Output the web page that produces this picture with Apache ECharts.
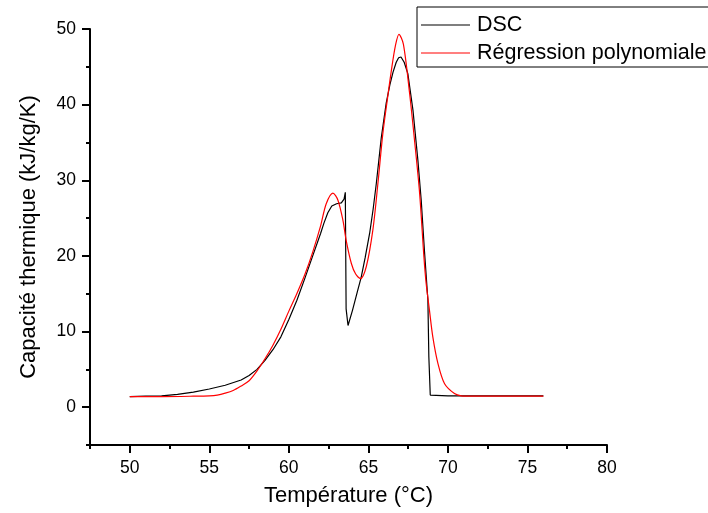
<!DOCTYPE html>
<html>
<head>
<meta charset="utf-8">
<script src="https://cdn.jsdelivr.net/npm/echarts@6/dist/echarts.min.js"></script>
<style>
html,body{margin:0;padding:0;background:#fff;}
#c{width:708px;height:513px;}
</style>
</head>
<body>
<div id="c"></div>
<script>
// ---- data ----
var seriesNames = ['DSC', 'Régression polynomiale'];
var tempDSC = [50, 51, 52, 53, 54, 55, 56, 57, 57.5, 58, 58.5, 59, 59.5, 60, 60.5, 61, 61.5, 62, 62.2, 62.45, 62.7, 63.0, 63.3, 63.47, 63.55, 63.6, 63.72, 64.0, 64.3, 64.55, 64.8, 65.08, 65.3, 65.5, 65.81, 66.12, 66.35, 66.55, 66.75, 66.9, 67.05, 67.25, 67.48, 67.8, 68.11, 68.32, 68.53, 68.74, 68.8, 68.89, 69.0, 70, 72, 74, 76];
var cpDSC   = [1.4, 1.45, 1.5, 1.7, 2.0, 2.4, 2.9, 3.6, 4.2, 5.0, 6.2, 7.6, 9.3, 11.6, 14.1, 17.0, 20.0, 23.0, 24.3, 25.7, 26.6, 26.9, 27.0, 27.5, 28.4, 13.0, 10.8, 12.8, 15.2, 17.2, 19.8, 23.0, 26.2, 29.6, 35.6, 40.2, 42.6, 44.3, 45.6, 46.2, 46.3, 45.6, 44.1, 39.3, 32.7, 27.4, 20.5, 14.2, 6.7, 1.6, 1.5, 1.5, 1.5, 1.5, 1.5];
var tempFit = [50, 52, 54, 55, 55.5, 56, 56.5, 57, 57.5, 58, 58.5, 59, 59.5, 60, 60.5, 61, 61.5, 62, 62.35, 62.77, 63.08, 63.4, 63.6, 63.93, 64.2, 64.5, 64.87, 65.28, 65.6, 65.91, 66.2, 66.45, 66.7, 66.92, 67.2, 67.59, 67.9, 68.22, 68.49, 68.63, 68.84, 69.05, 69.37, 69.79, 70.41, 70.83, 71.5, 76];
var cpFit   = [1.4, 1.4, 1.45, 1.5, 1.6, 1.85, 2.2, 2.8, 3.5, 4.8, 6.4, 8.2, 10.3, 12.7, 15.0, 17.5, 20.5, 24.0, 26.9, 28.3, 27.4, 24.7, 22.1, 19.0, 17.6, 17.0, 18.6, 23.4, 29.6, 36.2, 40.8, 44.6, 47.8, 49.3, 48.0, 41.5, 35.3, 28.3, 19.9, 16.4, 12.8, 9.3, 5.8, 3.1, 1.8, 1.5, 1.45, 1.45];
var xMajorTicks = [50, 55, 60, 65, 70, 75, 80];
var xMinorTicks = [47.5, 52.5, 57.5, 62.5, 67.5, 72.5, 77.5];
var yMajorTicks = [0, 10, 20, 30, 40, 50];
var yMinorTicks = [-5, 5, 15, 25, 35, 45];

function pairs(xs, ys){ return xs.map(function(x,i){ return [x, ys[i]]; }); }

var FONT = 'Arial, "Liberation Sans", sans-serif';
var chart = echarts.init(document.getElementById('c'), null, {renderer:'canvas'});
var axisLine = {show:true, onZero:false, lineStyle:{color:'#000', width:2}};
chart.setOption({
  animation:false,
  backgroundColor:'#fff',
  grid:{left:90, right:101, top:29, bottom:68, containLabel:false},
  legend:{
    orient:'vertical', left:417, top:7,
    data:[{name:seriesNames[0], icon:'rect'}, {name:seriesNames[1], icon:'rect'}],
    itemWidth:49, itemHeight:1, itemGap:6,
    padding:[7, 20, 3, 4],
    borderColor:'#000', borderWidth:1, backgroundColor:'#fff',
    textStyle:{fontFamily:FONT, fontSize:21.5, color:'#000', padding:[0,0,0,2]}
  },
  xAxis:[{
    type:'value', min:47.5, max:80, position:'bottom',
    name:'Température (°C)', nameLocation:'middle', nameGap:40,
    nameTextStyle:{fontFamily:FONT, fontSize:22, color:'#000'},
    axisLine:axisLine,
    axisTick:{show:true, inside:false, length:8, customValues:xMajorTicks, lineStyle:{color:'#000', width:2}},
    axisLabel:{show:true, customValues:xMajorTicks, margin:14, fontFamily:FONT, fontSize:17.5, color:'#000'},
    splitLine:{show:false}
  },{
    type:'value', min:47.5, max:80, position:'bottom', offset:0,
    axisLine:{show:false, onZero:false},
    axisTick:{show:true, inside:false, length:4, customValues:xMinorTicks, lineStyle:{color:'#000', width:2}},
    axisLabel:{show:false},
    splitLine:{show:false}
  }],
  yAxis:[{
    type:'value', min:-5, max:50, position:'left',
    name:'Capacité thermique (kJ/kg/K)', nameLocation:'middle', nameGap:50,
    nameTextStyle:{fontFamily:FONT, fontSize:22, color:'#000'},
    axisLine:axisLine,
    axisTick:{show:true, inside:false, length:8, customValues:yMajorTicks, lineStyle:{color:'#000', width:2}},
    axisLabel:{show:true, customValues:yMajorTicks, margin:14, fontFamily:FONT, fontSize:17.5, color:'#000'},
    splitLine:{show:false}
  },{
    type:'value', min:-5, max:50, position:'left', offset:0,
    axisLine:{show:false, onZero:false},
    axisTick:{show:true, inside:false, length:4, customValues:yMinorTicks, lineStyle:{color:'#000', width:2}},
    axisLabel:{show:false},
    splitLine:{show:false}
  }],
  series:[{
    name:seriesNames[0], type:'line', xAxisIndex:0, yAxisIndex:0,
    data:pairs(tempDSC, cpDSC), showSymbol:false, symbol:'none',
    lineStyle:{color:'#000', width:1.2}, itemStyle:{color:'#000'}
  },{
    name:seriesNames[1], type:'line', xAxisIndex:0, yAxisIndex:0,
    data:pairs(tempFit, cpFit), showSymbol:false, symbol:'none', smooth:0.3,
    lineStyle:{color:'#ff0000', width:1.2}, itemStyle:{color:'#ff0000'}
  }]
});
</script>
</body>
</html>
